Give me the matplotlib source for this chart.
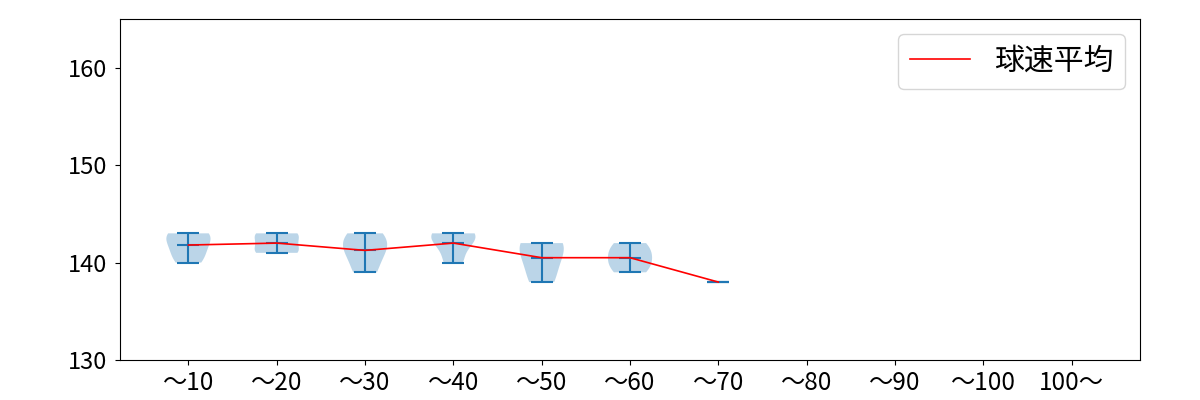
import numpy as np
import matplotlib
matplotlib.use("Agg")
import matplotlib.pyplot as plt

plt.rcParams['font.family'] = ['Noto Sans CJK JP', 'DejaVu Sans']

labels = ["～10", "～20", "～30", "～40", "～50", "～60", "～70", "～80", "～90", "～100", "100～"]

# pitch speeds in each pitch-count bin
speeds = [
    [140, 141, 142, 143, 143],
    [141, 141, 142, 143, 143],
    [139, 141, 142, 143],
    [140, 142, 143, 143],
    [138, 140, 142, 142],
    [139, 140, 141, 142],
    [138],
]
# empty bins are drawn with a dummy value at the bottom of the axis
empty_bins = [8, 9, 10, 11]
dummy = 129.9

fig = plt.figure(figsize=(12, 4), dpi=100)
ax = fig.add_axes([0.1, 0.1, 0.85, 0.8525])

pos = list(range(1, len(speeds) + 1))
ax.violinplot(speeds, positions=pos, showmeans=True)
ax.violinplot([[dummy]] * len(empty_bins), positions=empty_bins, showextrema=False)

means = [np.mean(s) for s in speeds]
ax.plot(pos, means, color="red", linewidth=1.2, label="球速平均")

ax.set_xticks(range(1, len(labels) + 1))
ax.set_xticklabels(labels, fontsize=17.5)
ax.tick_params(axis="y", labelsize=17, pad=6)
ax.set_ylim(130, 165)
ax.set_yticks([130, 140, 150, 160])
ax.legend(loc="upper right", fontsize=21.5)

fig.savefig("out.png")
